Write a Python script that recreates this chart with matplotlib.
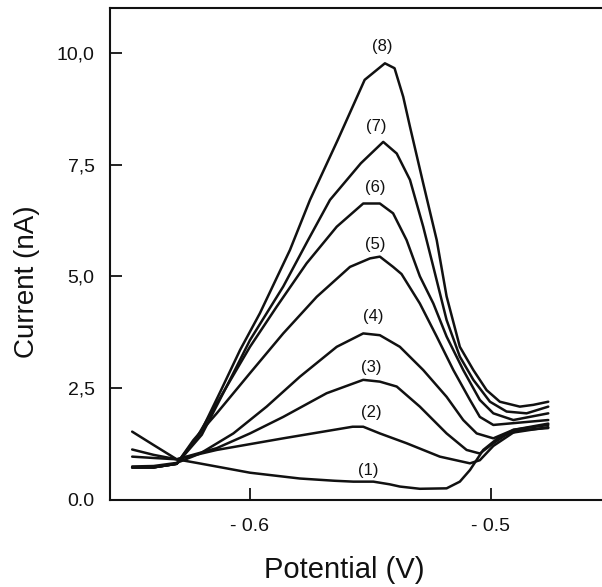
import matplotlib
matplotlib.use("Agg")
import matplotlib.pyplot as plt

plt.rcParams['font.family'] = ['Liberation Sans', 'DejaVu Sans']

# Potential (V) and current (nA), curves (1)..(8)
x1 = [-0.6489, -0.6400, -0.6304, -0.6221, -0.6100, -0.6000, -0.5793, -0.5650, -0.5571, -0.5488, -0.5420, -0.5378, -0.5295, -0.5184, -0.5129, -0.5087, -0.5032, -0.4963, -0.4880, -0.4762]
y1 = [1.52, 1.22, 0.90, 0.82, 0.70, 0.60, 0.47, 0.42, 0.40, 0.40, 0.34, 0.29, 0.24, 0.25, 0.40, 0.66, 1.11, 1.41, 1.55, 1.60]

x2 = [-0.6489, -0.6400, -0.6304, -0.6138, -0.5862, -0.5574, -0.5530, -0.5461, -0.5350, -0.5212, -0.5087, -0.5046, -0.4990, -0.4907, -0.4762]
y2 = [1.12, 1.00, 0.90, 1.11, 1.37, 1.63, 1.63, 1.48, 1.26, 0.96, 0.81, 0.88, 1.20, 1.50, 1.62]

x3 = [-0.6489, -0.6400, -0.6304, -0.6138, -0.6000, -0.5862, -0.5682, -0.5530, -0.5461, -0.5391, -0.5295, -0.5184, -0.5101, -0.5046, -0.4990, -0.4907, -0.4762]
y3 = [0.96, 0.93, 0.90, 1.15, 1.48, 1.85, 2.38, 2.68, 2.64, 2.53, 2.08, 1.48, 1.11, 1.03, 1.26, 1.56, 1.70]

x4 = [-0.6489, -0.6400, -0.6304, -0.6207, -0.6069, -0.5931, -0.5793, -0.5640, -0.5530, -0.5461, -0.5378, -0.5281, -0.5184, -0.5115, -0.5059, -0.4990, -0.4907, -0.4762]
y4 = [0.74, 0.75, 0.82, 1.03, 1.48, 2.08, 2.75, 3.42, 3.72, 3.68, 3.42, 2.90, 2.30, 1.78, 1.48, 1.37, 1.56, 1.67]

x5 = [-0.6489, -0.6400, -0.6304, -0.6235, -0.6138, -0.6000, -0.5862, -0.5723, -0.5585, -0.5502, -0.5461, -0.5406, -0.5371, -0.5295, -0.5225, -0.5156, -0.5087, -0.5046, -0.4990, -0.4907, -0.4762]
y5 = [0.72, 0.72, 0.80, 1.33, 1.93, 2.83, 3.72, 4.54, 5.21, 5.40, 5.44, 5.21, 5.05, 4.39, 3.65, 2.90, 2.23, 1.85, 1.67, 1.71, 1.78]

x6 = [-0.6489, -0.6400, -0.6304, -0.6220, -0.6138, -0.6000, -0.5889, -0.5765, -0.5640, -0.5530, -0.5461, -0.5406, -0.5350, -0.5295, -0.5239, -0.5184, -0.5115, -0.5046, -0.4990, -0.4907, -0.4762]
y6 = [0.72, 0.72, 0.80, 1.40, 2.15, 3.42, 4.32, 5.29, 6.11, 6.63, 6.63, 6.41, 5.81, 5.00, 4.39, 3.65, 2.90, 2.23, 1.93, 1.78, 1.93]

x7 = [-0.6489, -0.6400, -0.6304, -0.6200, -0.6100, -0.6000, -0.5862, -0.5760, -0.5668, -0.5540, -0.5447, -0.5391, -0.5336, -0.5281, -0.5239, -0.5184, -0.5129, -0.5073, -0.5004, -0.4935, -0.4852, -0.4762]
y7 = [0.72, 0.72, 0.80, 1.45, 2.50, 3.57, 4.77, 5.80, 6.71, 7.53, 8.01, 7.75, 7.16, 6.11, 5.21, 4.02, 3.20, 2.68, 2.19, 1.97, 1.93, 2.08]

x8 = [-0.6489, -0.6400, -0.6304, -0.6207, -0.6120, -0.6041, -0.5959, -0.5834, -0.5751, -0.5636, -0.5524, -0.5440, -0.5400, -0.5364, -0.5336, -0.5281, -0.5225, -0.5184, -0.5129, -0.5073, -0.5018, -0.4963, -0.4880, -0.4824, -0.4762]
y8 = [0.72, 0.72, 0.80, 1.48, 2.45, 3.35, 4.17, 5.59, 6.71, 8.05, 9.40, 9.77, 9.66, 9.02, 8.35, 7.08, 5.81, 4.55, 3.42, 2.90, 2.45, 2.19, 2.08, 2.12, 2.19]

curve_labels = ["(1)", "(2)", "(3)", "(4)", "(5)", "(6)", "(7)", "(8)"]
label_x = [-0.5508, -0.5495, -0.5495, -0.5488, -0.5480, -0.5480, -0.5476, -0.5449]
label_y = [0.645, 1.94, 2.96, 4.11, 5.72, 6.99, 8.35, 10.14]

xticks = [-0.6, -0.5]
xticklabels = ["- 0.6", "- 0.5"]
yticks = [0.0, 2.5, 5.0, 7.5, 10.0]
yticklabels = ["0.0", "2,5", "5,0", "7,5", "10,0"]

fig = plt.figure(figsize=(6.02, 5.87), dpi=100)
ax = fig.add_axes([110/602, 1 - 499.5/587, (602-110)/602, (499.5-7.5)/587])

col = '#111111'
for xs, ys in [(x1, y1), (x2, y2), (x3, y3), (x4, y4), (x5, y5), (x6, y6), (x7, y7), (x8, y8)]:
    ax.plot(xs, ys, color=col, lw=1.8, solid_joinstyle='round', solid_capstyle='round')

for t, lx, ly in zip(curve_labels, label_x, label_y):
    ax.text(lx, ly, t, ha='center', va='center', fontsize=12, color=col)

ax.set_xlim(-0.6581, -0.4539)
ax.set_ylim(0, 11.02)
ax.set_xticks(xticks)
ax.set_xticklabels(xticklabels)
ax.set_yticks(yticks)
ax.set_yticklabels(yticklabels)
ax.tick_params(direction='in', length=8.5, width=1.3, labelsize=14, colors=col)
ax.tick_params(axis='x', pad=13)
ax.tick_params(axis='y', pad=11)
ax.spines['right'].set_visible(False)
for s in ['left', 'bottom', 'top']:
    ax.spines[s].set_linewidth(1.5)
    ax.spines[s].set_color(col)

ax.set_xlabel("Potential (V)", fontsize=21, color=col, labelpad=15)
ax.set_ylabel("Current (nA)", fontsize=20, color=col, labelpad=10)
ax.xaxis.set_label_coords(0.4766, -0.115)
ax.yaxis.set_label_coords(-0.142, 0.442)

fig.savefig("out.png", dpi=100)
